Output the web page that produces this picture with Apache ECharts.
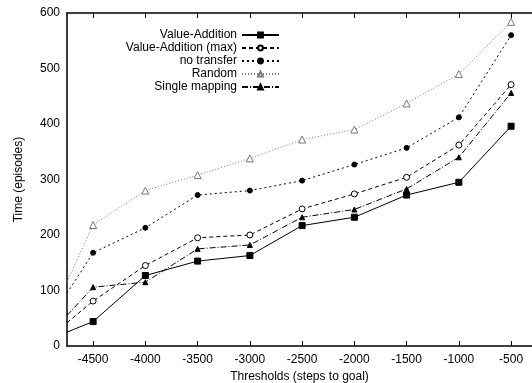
<!DOCTYPE html>
<html><head><meta charset="utf-8">
<script src="https://cdn.jsdelivr.net/npm/echarts@6/dist/echarts.min.js"></script>
<style>html,body{margin:0;padding:0;background:#fff}#c{width:532px;height:383px}</style>
</head><body><div id="c"></div>
<script>
const thresholds = [-4750, -4500, -4000, -3500, -3000, -2500, -2000, -1500, -1000, -500];
const xTicks = [-4500, -4000, -3500, -3000, -2500, -2000, -1500, -1000, -500];
const valueAddition    = [25, 44, 127, 153, 163, 217, 232, 272, 295, 396];
const valueAdditionMax = [42, 81, 145, 195, 200, 247, 274, 304, 362, 471];
const noTransfer       = [95, 168, 213, 272, 280, 298, 327, 357, 412, 560];
const randomMap        = [116, 218, 280, 308, 338, 372, 390, 437, 490, 584];
const singleMapping    = [55, 106, 115, 175, 182, 232, 246, 283, 340, 456];
const seriesNames = ['Value-Addition', 'Value-Addition (max)', 'no transfer', 'Random', 'Single mapping'];

// first point sits on the clipped left edge of the plot: no marker drawn there
const pair = arr => thresholds.map((x, i) => i === 0 ? {value: [x, arr[i]], symbol: 'none'} : [x, arr[i]]);
const FONT = 'Liberation Sans';
const chart = echarts.init(document.getElementById('c'), null, {renderer: 'canvas'});
function mk(name, data, color, type, symbol, size, fill) {
  return {
    name, type: 'line', data: pair(data), symbol, symbolSize: size,
    showAllSymbol: true,
    itemStyle: {color: fill ? color : '#fff', borderColor: color, borderWidth: 1},
    lineStyle: {color, width: 1, type},
    emphasis: {disabled: true}, animation: false
  };
}
const fmt = v => String(v);
chart.setOption({
  animation: false,
  grid: {left: 67, right: 0, top: 13, bottom: 37, outerBoundsMode: 'none', containLabel: false},
  legend: {
    orient: 'vertical', align: 'right', right: 247, top: 24,
    itemWidth: 37, itemHeight: 6, itemGap: 1,
    textStyle: {fontFamily: FONT, fontSize: 12, lineHeight: 12, color: '#000'},
    data: seriesNames
  },
  xAxis: [{
    type: 'value', min: -4750, max: -300,
    name: 'Thresholds (steps to goal)', nameLocation: 'middle', nameGap: 25,
    nameTextStyle: {fontFamily: FONT, fontSize: 12, color: '#000'},
    axisLine: {show: true, onZero: false, lineStyle: {color: '#000', width: 1.5}},
    axisTick: {show: true, inside: true, length: 5, customValues: xTicks, lineStyle: {color: '#000'}},
    axisLabel: {customValues: xTicks, formatter: fmt, fontFamily: FONT, fontSize: 12, color: '#000', margin: 8},
    splitLine: {show: false}
  }, {
    type: 'value', min: -4750, max: -300, position: 'top',
    axisLine: {show: true, onZero: false, lineStyle: {color: '#000', width: 1.5}},
    axisTick: {show: true, inside: true, length: 5, customValues: xTicks, lineStyle: {color: '#000'}},
    axisLabel: {show: false},
    splitLine: {show: false}
  }],
  yAxis: {
    type: 'value', min: 0, max: 600, interval: 100,
    name: 'Time (episodes)', nameLocation: 'middle', nameGap: 42,
    nameTextStyle: {fontFamily: FONT, fontSize: 12, color: '#000'},
    axisLine: {show: true, lineStyle: {color: '#000', width: 1.5}},
    axisTick: {show: false},
    axisLabel: {formatter: fmt, fontFamily: FONT, fontSize: 12, color: '#000', margin: 7},
    splitLine: {show: false}
  },
  series: [
    mk(seriesNames[0], valueAddition, '#000', 'solid', 'rect', 6, true),
    mk(seriesNames[1], valueAdditionMax, '#000', [4, 3], 'circle', 6, false),
    mk(seriesNames[2], noTransfer, '#000', [2, 3], 'circle', 5, true),
    mk(seriesNames[3], randomMap, '#777', [1, 2], 'triangle', 7, false),
    mk(seriesNames[4], singleMapping, '#000', [6, 2, 1, 2], 'triangle', 5, true)
  ]
});
</script></body></html>
